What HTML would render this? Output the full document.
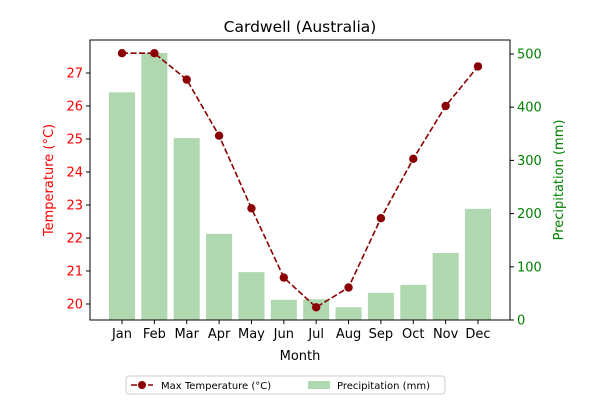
<!DOCTYPE html>
<html><head><meta charset="utf-8"><style>
body{margin:0;background:#fff;font-family:"Liberation Sans","DejaVu Sans",sans-serif;}
svg text{font-family:"DejaVu Sans","Liberation Sans",sans-serif;}
</style></head><body>
<svg id="c" width="600" height="400" viewBox="0 0 600 400"></svg>
<script>
const months=["Jan","Feb","Mar","Apr","May","Jun","Jul","Aug","Sep","Oct","Nov","Dec"];
const temps=[27.6,27.6,26.8,25.1,22.9,20.8,19.9,20.5,22.6,24.4,26.0,27.2];
const precip=[428,502,342,162,90,38,39,24,51,66,126,209];
const tempTicks=[20,21,22,23,24,25,26,27];
const precipTicks=[0,100,200,300,400,500];
const NS="http://www.w3.org/2000/svg";
const svg=document.getElementById('c');
const L=90,R=510,T=40,B=320;
const x=i=>122+i*(478-122)/11;
const yT=v=>304-(v-20)*33;
const yP=v=>320-v*0.532;
function el(t,a,p){const e=document.createElementNS(NS,t);for(const k in a)e.setAttribute(k,a[k]);(p||svg).appendChild(e);return e;}
function tx(s,a){const e=el('text',a);e.textContent=s;return e;}
// bars
months.forEach((m,i)=>{const b=el('rect',{x:x(i)-13,y:yP(precip[i]),width:26,height:B-yP(precip[i]),fill:'#b0d8b0'});

});
// line
const pts=temps.map((v,i)=>x(i)+','+yT(v)).join(' ');
const ln=el('polyline',{points:pts,fill:'none',stroke:'#8b0000','stroke-width':1.6,'stroke-dasharray':'6,2.5'});


temps.forEach((v,i)=>{const c=el('circle',{cx:x(i),cy:yT(v),r:4.2,fill:'#8b0000'});

});
// frame
const fr=el('rect',{x:L,y:T,width:R-L,height:B-T,fill:'none',stroke:'#000','stroke-width':1});


// x ticks
months.forEach((m,i)=>{el('line',{x1:x(i),x2:x(i),y1:B,y2:B+4,stroke:'#000'});
const t=tx(m,{x:x(i),y:B+18,'text-anchor':'middle','font-size':13,fill:'#000'});

});
tempTicks.forEach(v=>{el('line',{x1:L-4,x2:L,y1:yT(v),y2:yT(v),stroke:'#000'});
const t=tx(v,{x:L-7,y:yT(v)+4.5,'text-anchor':'end','font-size':13,fill:'red'});

});
precipTicks.forEach(v=>{el('line',{x1:R,x2:R+4,y1:yP(v),y2:yP(v),stroke:'#000'});
const t=tx(v,{x:R+7,y:yP(v)+4.5,'text-anchor':'start','font-size':13,fill:'green'});

});
let t=tx('Cardwell (Australia)',{x:300,y:32,'text-anchor':'middle','font-size':15.5,fill:'#000'});

t=tx('Month',{x:300,y:360,'text-anchor':'middle','font-size':13,fill:'#000'});

t=tx('Temperature (°C)',{x:0,y:0,'text-anchor':'middle','font-size':13,fill:'red',transform:'translate(53,180) rotate(-90)'});

t=tx('Precipitation (mm)',{x:0,y:0,'text-anchor':'middle','font-size':13,fill:'green',transform:'translate(563,180) rotate(-90)'});

// legend
const lg=el('g',{});

el('rect',{x:126,y:376,width:319,height:18,rx:3,fill:'#fff',stroke:'#ccc'},lg);
el('line',{x1:131,x2:153,y1:385,y2:385,stroke:'#8b0000','stroke-width':1.6,'stroke-dasharray':'6,2.5'},lg);
el('circle',{cx:142,cy:385,r:4,fill:'#8b0000'},lg);
let e=document.createElementNS(NS,'text');e.textContent='Max Temperature (°C)';
[['x',161],['y',389],['font-size',10]].forEach(a=>e.setAttribute(a[0],a[1]));lg.appendChild(e);
el('rect',{x:308,y:381,width:22,height:8,fill:'#b0d8b0'},lg);
e=document.createElementNS(NS,'text');e.textContent='Precipitation (mm)';
[['x',337],['y',389],['font-size',10]].forEach(a=>e.setAttribute(a[0],a[1]));lg.appendChild(e);
</script>
</body></html>
